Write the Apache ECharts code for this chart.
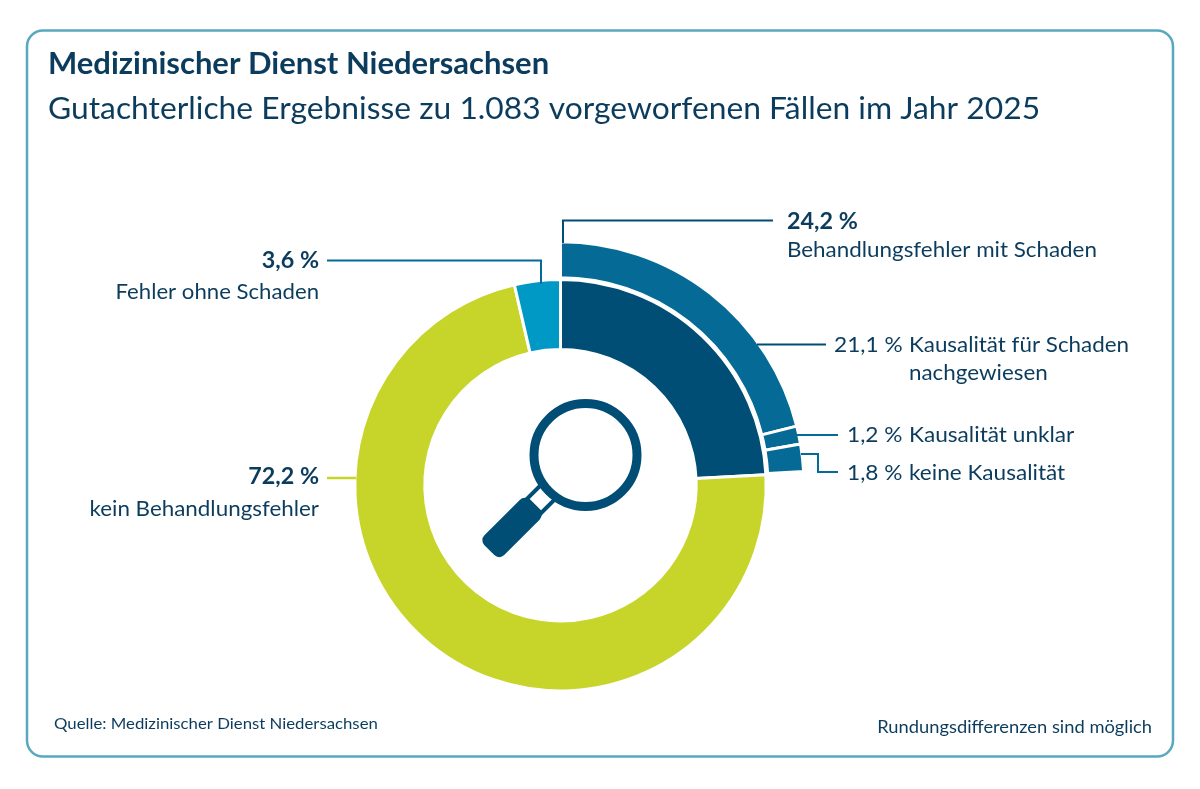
<!DOCTYPE html>
<html><head><meta charset="utf-8">
<style>html,body{margin:0;padding:0;background:#fff}#c{width:1200px;height:789px}</style>
<script src="https://cdn.jsdelivr.net/npm/echarts@6/dist/echarts.min.js"></script>
</head><body><div id="c"></div>
<script>
const innerNames = ['Behandlungsfehler mit Schaden','kein Behandlungsfehler','Fehler ohne Schaden'];
const innerValues = [24.2, 72.2, 3.6];
const innerColors = ['#004d75','#c7d52b','#0099c6'];
const outerNames = ['Kausalität für Schaden','Kausalität unklar','keine Kausalität','Rest'];
const outerValues = [21.1, 1.2, 1.8, 75.9];
const outerColor = '#056a96';
const titleText = 'Medizinischer Dienst Niedersachsen';
const subtitleText = 'Gutachterliche Ergebnisse zu 1.083 vorgeworfenen Fällen im Jahr 2025';
const sourceText = 'Quelle: Medizinischer Dienst Niedersachsen';
const noteText = 'Rundungsdifferenzen sind möglich';

const FONT = 'Lato';
const INK = '#0b3c5d';
const DARK = '#004d75';
function t(x, y, text, size, weight, align, sx) {
  return {type:'text', x, y, scaleX:sx||1, originX:0, originY:0, silent:true, z:20,
    style:{text, x:0, y:0, fill:INK, font:(weight||'normal')+' '+size+'px '+FONT, textAlign:align||'left', textVerticalAlign:'middle'}};
}
function line(points, color, w) {
  return {type:'polyline', z:15, silent:true, shape:{points}, style:{stroke:color, lineWidth:w||2, fill:null}};
}
const chart = echarts.init(document.getElementById('c'), null, {renderer:'canvas'});
const S = 1.066;
chart.setOption({
  animation:false,
  backgroundColor:'#fff',
  graphic:[
    {type:'rect', z:0, silent:true, shape:{x:27,y:30.5,width:1146,height:726,r:16}, style:{fill:'#fff', stroke:'#5aa8c0', lineWidth:2.5}},
    t(48,64,titleText,31,'bold'),
    t(48,109,subtitleText,30,'normal','left',1.06),
    line([[563,243],[563,220.5],[773,220.5]],DARK),
    line([[327,260.5],[541,260.5],[541,284]],'#056a96'),
    line([[757,344.5],[826,344.5]],DARK),
    line([[797,435],[838,435]],'#056a96'),
    line([[801,454],[818,454],[818,472],[838,472]],'#056a96'),
    line([[327,478],[356,478]],'#c7d52b',2.5),
    t(787,222,'24,2 %',22,'bold','left',1.06),
    t(787,250,innerNames[0],21,'normal','left',S),
    t(319,261,'3,6 %',22,'bold','right',1.06),
    t(319,292,innerNames[2],21,'normal','right',S-0.01),
    t(319,477,'72,2 %',22,'bold','right',1.06),
    t(319,509,innerNames[1],21,'normal','right',S),
    t(834,345,'21,1 %',21,'normal','left',1.08),
    t(909,345,outerNames[0],21,'normal','left',S),
    t(909,373,'nachgewiesen',21,'normal','left',S),
    t(847,435,'1,2 %',21,'normal','left',1.08),
    t(909,435,outerNames[1],21,'normal','left',1.078),
    t(847,473,'1,8 %',21,'normal','left',1.08),
    t(909,473,outerNames[2],21,'normal','left',1.075),
    t(54,724,sourceText,16,'normal','left',1.048),
    t(1152,728,noteText,17,'normal','right',1.077),
    // magnifier
    {type:'rect', z:16, silent:true, x:541, y:499, originX:0, originY:0, rotation:-Math.PI/4,
      shape:{x:-10,y:-10,width:20,height:20}, style:{fill:'#fff', stroke:DARK, lineWidth:4}},
    {type:'rect', z:17, silent:true, x:512, y:527.5, originX:0, originY:0, rotation:-Math.PI/4,
      shape:{x:-14,y:-32,width:28,height:64,r:7}, style:{fill:DARK}},
    {type:'circle', z:18, silent:true, shape:{cx:585.5,cy:455,r:51.5}, style:{fill:'#fff', stroke:DARK, lineWidth:9}}
  ],
  series:[
    {type:'pie', silent:true, center:[560.5,485.2], radius:[135.7,205.7], startAngle:90, clockwise:true,
      label:{show:false}, labelLine:{show:false}, emphasis:{disabled:true},
      itemStyle:{borderColor:'#fff', borderWidth:3},
      data:innerValues.map((v,i)=>({name:innerNames[i], value:v, itemStyle:{color:innerColors[i]}}))},
    {type:'pie', silent:true, center:[560.5,485.2], radius:[207.5,243.5], startAngle:90, clockwise:true,
      label:{show:false}, labelLine:{show:false}, emphasis:{disabled:true},
      data:outerValues.map((v,i)=>({name:outerNames[i], value:v,
        itemStyle: i<3 ? {color:outerColor, borderColor:'#fff', borderWidth:3} : {color:'rgba(0,0,0,0)', borderWidth:0}}))}
  ]
});
</script></body></html>
